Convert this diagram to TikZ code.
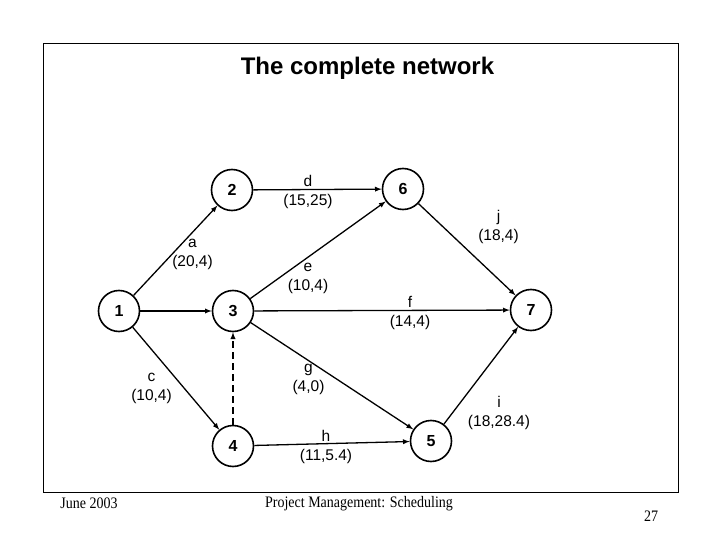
\documentclass[tikz,border=0pt]{standalone}
\usepackage{fontspec}
\setmainfont{Liberation Serif}
\setsansfont{Liberation Sans}
\usepackage{tikz}
\usetikzlibrary{arrows,positioning}
\tikzset{%
	event/.style    = {draw, circle, line width=1.6pt, minimum size=41pt, inner sep=0pt, font=\sffamily\bfseries\fontsize{16}{16}\selectfont},
	actlabel/.style = {align=center, inner sep=0pt, font=\sffamily\fontsize{15.5}{19}\selectfont},
	arrow/.style    = {line width=1.3pt,-latex},
	dummy/.style    = {arrow, dash pattern=on 7pt off 4pt},
	footer/.style   = {inner sep=0pt, anchor=base, xscale=0.875, font=\fontsize{16}{16}\selectfont},
}

\begin{document}
\begin{tikzpicture}[x=1pt,y=-1pt]
		\useasboundingbox (0,0) rectangle (720,540);
		% frame and title
		\draw[line width=0.9pt] (43,43) rectangle (678,492);
		\node[font=\sffamily\bfseries\fontsize{24}{24}\selectfont] (title) at (367.5,68) {The complete network};
		
		% events
		\node[event] (n1) at (119,311) {1};
		\node[event] (n2) at (232,190) {2};
		\node[event] (n3) at (233,311) {3};
		\node[event] (n4) at (233,446) {4};
		\node[event] (n5) at (431,441) {5};
		\node[event] (n6) at (403,189) {6};
		\node[event] (n7) at (531,310) {7};
		
		% activities
		\foreach \from/\to in {n1/n2,n1/n3,n1/n4,n2/n6,n3/n6,n3/n7,n3/n5,n4/n5,n6/n7,n5/n7} \draw[arrow] (\from) -- (\to);
		\draw[dummy] (n4) -- (n3);
		
		\node[actlabel] (la) at (192.5,254) {a\\(20,4)};
		\node[actlabel] (lc) at (151.5,388.5) {c\\(10,4)};
		\node[actlabel] (ld) at (308,191.5) {d\\(15,25)};
		\node[actlabel] (le) at (308,278) {e\\(10,4)};
		\node[actlabel] (lf) at (410,312.5) {f\\(14,4)};
		\node[actlabel] (lg) at (308.5,379) {g\\(4,0)};
		\node[actlabel] (lh) at (326,446.5) {h\\(11,5.4)};
		\node[actlabel] (li) at (499,413) {i\\(18,28.4)};
		\node[actlabel] (lj) at (498.5,227) {j\\(18,4)};
		
		% footer
		\node[footer] (date) at (89,508) {June 2003};
		\node[footer] (topic) at (359,507) {Project Management: Scheduling};
		\node[footer] (page) at (651,521) {27};
		
\end{tikzpicture}
\end{document}
